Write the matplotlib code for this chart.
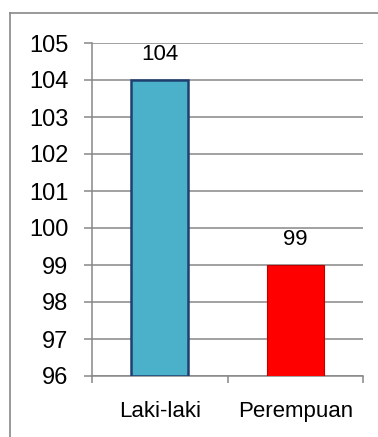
import matplotlib.pyplot as plt
from matplotlib.lines import Line2D

categories = ['Laki-laki', 'Perempuan']
values = [104, 99]
bar_colors = ['#4BB0CA', '#FF0000']
edge_colors = ['#1F3F6E', '#C00000']
yticks = [96, 97, 98, 99, 100, 101, 102, 103, 104, 105]

plt.rcParams['font.family'] = ['Liberation Sans', 'DejaVu Sans']
grid_gray = '#878787'

fig = plt.figure(figsize=(3.78, 4.37), dpi=100)
ax = fig.add_axes([92/378, 61/437, 271/378, 333/437])

xpos = range(len(categories))
bars = ax.bar(xpos, [v - yticks[0] for v in values], bottom=yticks[0], width=0.42,
              color=bar_colors, edgecolor=edge_colors, linewidth=[1.8, 0.8], zorder=3)

for b, v in zip(bars, values):
    ax.annotate(str(v), (b.get_x() + b.get_width()/2, v), xytext=(0, 11),
                textcoords='offset points', ha='center', va='bottom', fontsize=16)

ax.set_xlim(-0.5, 1.5)
ax.set_ylim(yticks[0], yticks[-1])
ax.set_yticks(yticks)
ax.set_yticklabels([str(t) for t in yticks], fontsize=17)
ax.yaxis.grid(True, color=grid_gray, linewidth=1.1, zorder=0)
ax.set_axisbelow(True)

# category ticks sit between the groups
ax.set_xticks([-0.5, 0.5, 1.5])
ax.set_xticklabels([])
ax.set_xticks(list(xpos), minor=True)
ax.set_xticklabels(categories, minor=True, fontsize=16)
ax.tick_params(axis='x', which='major', length=5, color=grid_gray, width=1.1)
ax.tick_params(axis='x', which='minor', length=0, pad=18)
ax.tick_params(axis='y', length=6, color=grid_gray, width=1.1, pad=11)

for s in ['top', 'right']:
    ax.spines[s].set_visible(False)
for s in ['left', 'bottom']:
    ax.spines[s].set_color(grid_gray)
    ax.spines[s].set_linewidth(1.1)

# outer chart frame
fig.add_artist(Line2D([9.5/378, 9.5/378], [0, 1 - 13/437], color='#888888', lw=1.2,
                      transform=fig.transFigure))
fig.add_artist(Line2D([9.5/378, 1], [1 - 13/437, 1 - 13/437], color='#888888', lw=1.2,
                      transform=fig.transFigure))

fig.savefig('out.png', dpi=100)
